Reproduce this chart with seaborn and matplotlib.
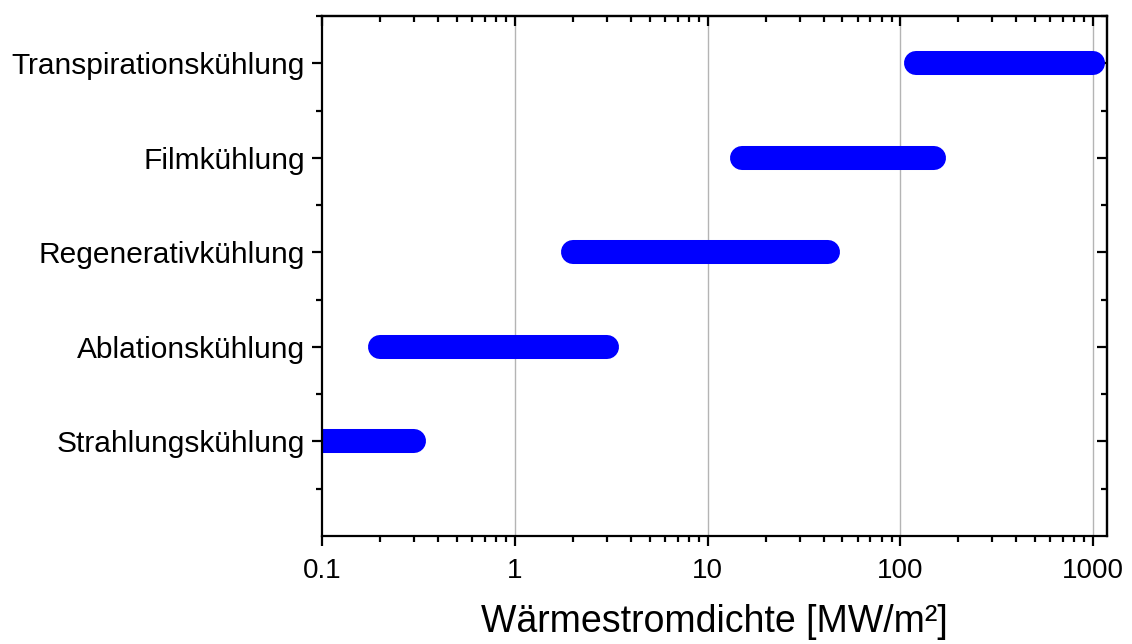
import numpy as np
import pandas as pd
import matplotlib
matplotlib.use("Agg")
import matplotlib.pyplot as plt
from matplotlib.ticker import LogLocator, FixedLocator, NullFormatter, FixedFormatter
import seaborn as sns

# Cooling methods (bottom to top) and their heat-flux ranges in MW/m²
methods = ["Strahlungskühlung", "Ablationskühlung", "Regenerativkühlung",
           "Filmkühlung", "Transpirationskühlung"]
flux_min = [0.1, 0.2, 2.0, 15.0, 120.0]
flux_max = [0.3, 3.0, 42.0, 150.0, 1000.0]
x_ticks = [0.1, 1, 10, 100, 1000]
x_tick_labels = ["0.1", "1", "10", "100", "1000"]
x_label = "Wärmestromdichte [MW/m²]"

sns.set_theme(style="white")
plt.rcParams["font.family"] = ["Liberation Sans", "DejaVu Sans"]

rows = []
for i, (m, lo, hi) in enumerate(zip(methods, flux_min, flux_max)):
    rows.append({"Verfahren": m, "pos": i + 1, "q": lo})
    rows.append({"Verfahren": m, "pos": i + 1, "q": hi})
df = pd.DataFrame(rows)

fig = plt.figure(figsize=(11.32, 6.44), dpi=100)
ax = fig.add_axes([322 / 1132, 1 - 536 / 644, (1107 - 322) / 1132, (536 - 16) / 644])

ax.set_xscale("log")
ax.set_xlim(0.1, 1180)
ax.set_ylim(0, 5.5)

sns.lineplot(data=df, x="q", y="pos", units="Verfahren", estimator=None,
             color="#0000FF", linewidth=17.3, solid_capstyle="round",
             sort=False, legend=False, ax=ax)

# vertical grid at decades
for xv in x_ticks[1:]:
    ax.axvline(xv, color="#b4b4b4", linewidth=1.0, zorder=0)

lw = 1.6
for s in ax.spines.values():
    s.set_linewidth(lw)
    s.set_color("black")
    s.set_visible(True)

# bottom / left axes: outward ticks with labels
ax.xaxis.set_major_locator(FixedLocator(x_ticks))
ax.xaxis.set_major_formatter(FixedFormatter(x_tick_labels))
ax.xaxis.set_minor_locator(LogLocator(base=10, subs=np.arange(2, 10), numticks=20))
ax.xaxis.set_minor_formatter(NullFormatter())
ax.set_yticks(range(1, len(methods) + 1))
ax.set_yticklabels(methods)
ax.yaxis.set_minor_locator(FixedLocator(np.arange(0.5, len(methods) + 0.6, 1.0)))

ax.tick_params(axis="both", which="major", direction="out", length=7.5, width=lw,
               color="black", labelcolor="black",
               bottom=True, left=True, top=False, right=False)
ax.tick_params(axis="both", which="minor", direction="out", length=4.3, width=lw,
               color="black", bottom=True, left=True, top=False, right=False)
ax.tick_params(axis="x", which="major", pad=8, labelsize=20)
ax.tick_params(axis="y", which="major", pad=5, labelsize=21.5)

ax.set_xlabel(x_label, fontsize=27, labelpad=15, color="black")
ax.set_ylabel("")

# mirrored top / right axes with inward ticks
top = ax.secondary_xaxis("top")
top.xaxis.set_major_locator(FixedLocator(x_ticks))
top.xaxis.set_minor_locator(LogLocator(base=10, subs=np.arange(2, 10), numticks=20))
top.xaxis.set_major_formatter(NullFormatter())
top.xaxis.set_minor_formatter(NullFormatter())
top.tick_params(which="major", direction="in", length=7.5, width=lw, color="black")
top.tick_params(which="minor", direction="in", length=4.3, width=lw, color="black")
top.spines["top"].set_linewidth(lw)

right = ax.secondary_yaxis("right")
right.yaxis.set_major_locator(FixedLocator(range(1, len(methods) + 1)))
right.yaxis.set_minor_locator(FixedLocator(np.arange(0.5, len(methods) + 0.6, 1.0)))
right.yaxis.set_major_formatter(NullFormatter())
right.yaxis.set_minor_formatter(NullFormatter())
right.tick_params(which="major", direction="in", length=7.5, width=lw, color="black")
right.tick_params(which="minor", direction="in", length=4.3, width=lw, color="black")
right.spines["right"].set_linewidth(lw)

fig.savefig("out.png", dpi=100, facecolor="white")
